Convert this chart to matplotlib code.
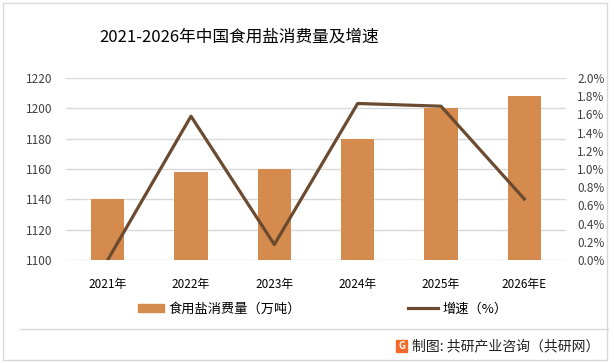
import numpy as np
import matplotlib
matplotlib.use('Agg')
import matplotlib.pyplot as plt
from matplotlib.patches import Rectangle

plt.rcParams['font.family'] = ['Noto Sans CJK SC', 'DejaVu Sans']

years = ['2021年', '2022年', '2023年', '2024年', '2025年', '2026年E']
consumption = [1140, 1158, 1160, 1180, 1200, 1208]
growth = [0.00, 1.58, 0.17, 1.72, 1.69, 0.67]

bar_color = '#D58B4D'
line_color = '#6B4A30'
W, H = 614, 363

fig = plt.figure(figsize=(W / 100, H / 100), dpi=100)
ax1 = fig.add_axes([66 / W, 1 - 260 / H, 500 / W, 182 / H])
ax2 = ax1.twinx()

x = np.arange(len(years))
ax1.bar(x, consumption, width=0.4, color=bar_color, zorder=2)
ax1.set_ylim(1100, 1220)
ax1.set_yticks(np.arange(1100, 1221, 20))
ax1.set_xlim(-0.5, len(years) - 0.5)
ax1.set_xticks(x)
ax1.set_xticklabels(years)
ax1.grid(axis='y', color='#D9D9D9', linewidth=1, zorder=0)
ax1.set_axisbelow(True)

ax2.plot(x, growth, color=line_color, linewidth=2.3, zorder=3)
ax2.set_ylim(0, 2.0)
ax2.set_yticks(np.arange(0, 2.01, 0.2))
ax2.set_yticklabels(['%.1f%%' % v for v in np.arange(0, 2.01, 0.2)])

for a in (ax1, ax2):
    for s in a.spines.values():
        s.set_visible(False)
    a.tick_params(length=0, labelsize=8.5, colors='#404040')
ax1.tick_params(axis='y', pad=10)
ax1.tick_params(axis='x', pad=13, labelcolor='black')
ax2.tick_params(axis='y', pad=8)

fig.text(0.5 * (100 + 378) / W, 1 - 37 / H, '2021-2026年中国食用盐消费量及增速',
         ha='center', va='center', fontsize=12)

h1 = Rectangle((0, 0), 1, 1, color=bar_color)
fig.legend([h1], ['食用盐消费量（万吨）'], loc='center left',
           bbox_to_anchor=(138 / W, 1 - 309 / H), frameon=False,
           fontsize=9.5, handlelength=2.0, handleheight=0.5,
           handletextpad=0.3, borderpad=0, borderaxespad=0)
h2 = plt.Line2D([0], [0], color=line_color, linewidth=2.3)
fig.legend([h2], ['增速（%）'], loc='center left',
           bbox_to_anchor=(408 / W, 1 - 309 / H), frameon=False,
           fontsize=9.5, handlelength=2.3, handletextpad=0.3,
           borderpad=0, borderaxespad=0)

# footer separator and outer border
fig.add_artist(plt.Line2D([20 / W, 1 - 6 / W], [1 - 329 / H] * 2,
                          color='#D9D9D9', linewidth=1, transform=fig.transFigure))
fig.add_artist(Rectangle((3 / W, 3 / H), 1 - 10 / W, 1 - 6 / H, fill=False,
                         edgecolor='#D9D9D9', linewidth=1, transform=fig.transFigure))

fig.add_artist(Rectangle((396 / W, 1 - 352 / H), 11 / W, 12 / H, color='#F26B2A',
                         transform=fig.transFigure))
fig.text(401.5 / W, 1 - 346 / H, 'G', color='white', fontsize=7, fontweight='bold',
         ha='center', va='center')
fig.text(412 / W, 1 - 346 / H, '制图: 共研产业咨询（共研网）', ha='left', va='center',
         fontsize=10, color='#222222')

fig.savefig('out.png', dpi=100)
